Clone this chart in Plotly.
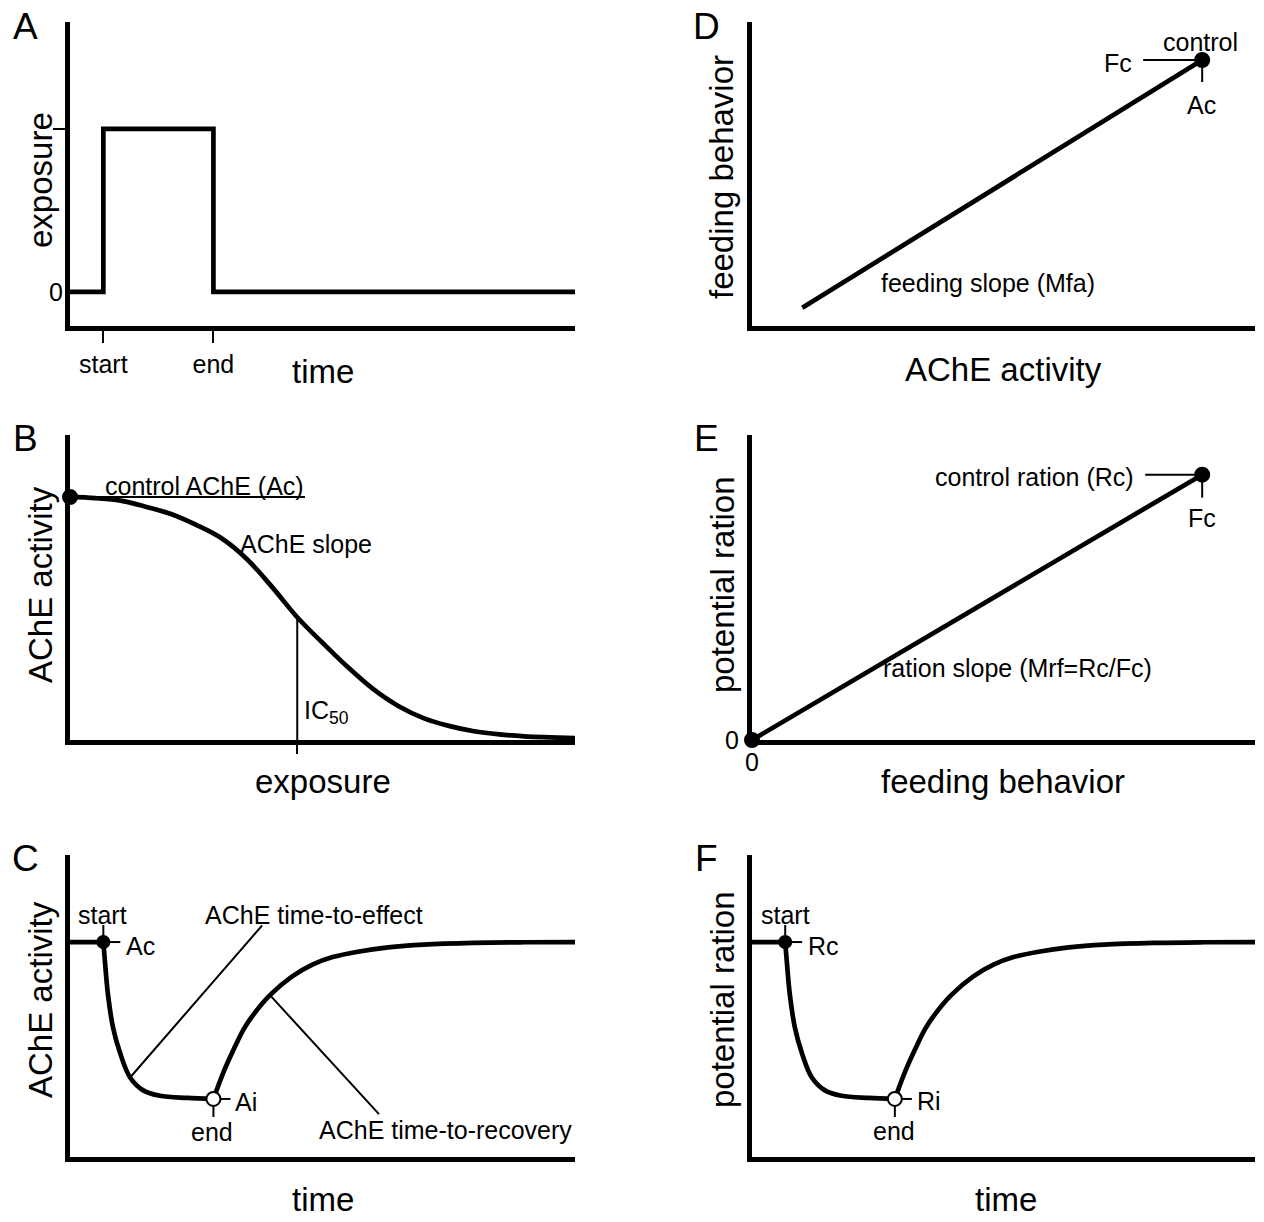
import plotly.graph_objects as go

# page body has an 8px margin; figure is sized so the page fits the window exactly
W, H = 1248, 1206
OFF = 8
FONT = "Liberation Sans, Arial, Helvetica, sans-serif"

# ---- data ----
# A: exposure pulse
start_time, end_time = 6.6, 28.4
pulse_time = [0, start_time, end_time, 100]
pulse_level = [0, 1, 0, 0]

# B: AChE vs exposure (dose-response)
dose = [0, 5, 10, 15, 20, 25, 30, 35, 40, 45, 50, 55, 60, 65, 70, 75, 80, 85, 90, 95, 100]
ache_dose = [100, 99.5, 98.5, 96, 93, 88.5, 83, 74.5, 63, 50.5, 40, 30, 21, 14, 9, 5.8,
             3.6, 2.3, 1.5, 1.1, 0.8]
ache_control = 100
ic50 = 45

# C / F: time course (AChE activity / potential ration)
base_time = [0, start_time]
base_level = [100, 100]
decay_time = [6.6, 6.9, 7.5, 8.5, 9.9, 11.9, 14.5, 17.8, 23.2, 28.4]
decay_level = [100, 91.5, 76, 60.5, 48.5, 37, 31, 28.5, 27.5, 27]
recov_time = [28.4, 30.4, 32.4, 34.4, 36.4, 39.6, 44, 48, 52, 57, 63, 70, 80, 90, 100]
recov_level = [27, 39.5, 50, 59.5, 66.5, 75.3, 84, 89.5, 93, 95.5, 97.5, 98.8, 99.6, 99.9, 100]

# D: feeding vs AChE
ache_d = [10, 89.5]
feed_d = [6, 87.5]

# E: ration vs feeding
feed_e = [0, 89.5]
ration_e = [0, 87]

# ---- panel boxes in page pixels: left, right, top, bottom ----
boxes = {
    1: (70, 575, 22, 326),
    2: (70, 575, 435, 740),
    3: (70, 575, 855, 1157),
    4: (752, 1255, 22, 326),
    5: (752, 1255, 435, 740),
    6: (752, 1255, 855, 1157),
}
yranges = {1: [-0.209, 1.656], 2: [0, 125.5], 3: [0, 140.5],
           4: [0, 100], 5: [0, 100], 6: [0, 140.5]}


def fx(px):
    return (px - OFF) / W


def fy(py):
    return 1 - (py - OFF) / H


LINE = dict(color="black", width=4.7)

fig = go.Figure()


def ax(i):
    return ("x" if i == 1 else f"x{i}"), ("y" if i == 1 else f"y{i}")


def curve(i, x, y, shape="linear"):
    xa, ya = ax(i)
    fig.add_trace(go.Scatter(x=x, y=y, mode="lines", line=dict(LINE, shape=shape),
                             xaxis=xa, yaxis=ya, hoverinfo="skip"))


def dots(i, x, y, fill="black", size=13):
    xa, ya = ax(i)
    fig.add_trace(go.Scatter(x=x, y=y, mode="markers", cliponaxis=False,
                             marker=dict(size=size, color=fill, line=dict(color="black", width=2)),
                             xaxis=xa, yaxis=ya, hoverinfo="skip"))


# A
curve(1, pulse_time, pulse_level, "hv")
# B
curve(2, dose, ache_dose, "spline")
dots(2, [0], [ache_control], size=14)
# C and F
for i in (3, 6):
    curve(i, base_time, base_level)
    curve(i, decay_time, decay_level, "spline")
    curve(i, recov_time, recov_level, "spline")
    dots(i, [start_time], [base_level[-1]], size=12)
    dots(i, [end_time], [decay_level[-1]], fill="white", size=14)
# D
curve(4, ache_d, feed_d)
dots(4, [ache_d[-1]], [feed_d[-1]], size=14)
# E
curve(5, feed_e, ration_e)
dots(5, feed_e, ration_e, size=14)


# ---- small tick/leader lines, sized in pixels from a data anchor ----
def tick(i, xa_, ya_, dx, dy, width=2):
    xr, yr = ax(i)
    return dict(type="line", xref=xr, yref=yr, xsizemode="pixel", ysizemode="pixel",
                xanchor=xa_, yanchor=ya_, x0=0, y0=0, x1=dx, y1=dy, layer="below",
                line=dict(color="black", width=width))


shapes = [
    tick(2, 0, ache_control, 235, 0),
    dict(type="line", xref="x2", yref="y2", x0=ic50, x1=ic50, y0=0, y1=ache_control / 2,
         layer="below", line=dict(color="black", width=2)),
    tick(4, ache_d[-1], feed_d[-1], -59, 0),
    tick(4, ache_d[-1], feed_d[-1], 0, -22),
    tick(5, feed_e[-1], ration_e[-1], -57, 0),
    tick(5, feed_e[-1], ration_e[-1], 0, -23),
]
for i in (3, 6):
    shapes += [
        tick(i, start_time, base_level[-1], 0, 17),
        tick(i, start_time, base_level[-1], 17, 0),
        tick(i, end_time, decay_level[-1], 0, -18),
        tick(i, end_time, decay_level[-1], 17, 0),
    ]
shapes += [
    tick(3, decay_time[5], decay_level[5], 132, 152),
    tick(3, recov_time[5], recov_level[5], 109, -119),
]


# ---- text ----
def label(text, px, py, size=25, angle=0, xanchor="center"):
    return dict(text=text, x=fx(px), y=fy(py), xref="paper", yref="paper",
                showarrow=False, textangle=angle, xanchor=xanchor, yanchor="middle",
                font=dict(size=size, family=FONT, color="black"))


annotations = [
    label("A", 25, 26, 37), label("B", 25, 438, 37), label("C", 25, 858, 37),
    label("D", 706, 26, 37), label("E", 706, 438, 37), label("F", 706, 858, 37),
    # axis titles
    label("exposure", 40, 180, 33, -90), label("time", 323, 371, 33),
    label("AChE activity", 40, 585, 33, -90), label("exposure", 323, 781, 33),
    label("AChE activity", 40, 1000, 33, -90), label("time", 323, 1199, 33),
    label("feeding behavior", 722, 177, 33, -90), label("AChE activity", 1003, 369, 33),
    label("potential ration", 722, 585, 33, -90), label("feeding behavior", 1003, 781, 33),
    label("potential ration", 722, 1000, 33, -90), label("time", 1006, 1199, 33),
    # A
    label("0", 56, 292),
    # B
    label("control AChE (Ac)", 204, 486), label("AChE slope", 306, 544),
    label("IC<sub>50</sub>", 302, 712, xanchor="left"),
    # C
    label("start", 103, 915), label("Ac", 140, 946), label("Ai", 246, 1102),
    label("end", 212, 1132), label("AChE time-to-effect", 314, 915),
    label("AChE time-to-recovery", 445, 1130),
    # D
    label("control", 1200, 42), label("Fc", 1118, 63), label("Ac", 1201, 105),
    label("feeding slope (Mfa)", 988, 283),
    # E
    label("control ration (Rc)", 1034, 477), label("Fc", 1202, 518),
    label("ration slope (Mrf=Rc/Fc)", 1017, 668),
    label("0", 732, 740), label("0", 752, 762),
    # F
    label("start", 785, 915), label("Rc", 823, 946), label("Ri", 929, 1101),
    label("end", 894, 1131),
]

layout = dict(width=W, height=H, margin=dict(l=0, r=0, t=0, b=0),
              paper_bgcolor="white", plot_bgcolor="white", showlegend=False,
              font=dict(family=FONT, color="black"),
              shapes=shapes, annotations=annotations)

base_axis = dict(showline=True, linewidth=4.5, linecolor="black", showgrid=False,
                 zeroline=False, ticks="", showticklabels=False, fixedrange=True)

for i, (l, r, t, b) in boxes.items():
    xa, ya = ax(i)
    xkey = "xaxis" if i == 1 else f"xaxis{i}"
    ykey = "yaxis" if i == 1 else f"yaxis{i}"
    layout[xkey] = dict(base_axis, domain=[fx(l), fx(r)], range=[0, 100], anchor=ya)
    layout[ykey] = dict(base_axis, domain=[fy(b), fy(t)], range=yranges[i], anchor=xa)

# A: start / end ticks on time, tick at exposure level 1
layout["xaxis"].update(tickvals=[start_time, end_time], ticktext=["start", "end"],
                       ticks="outside", ticklen=12, tickwidth=2, tickcolor="black",
                       showticklabels=True, tickfont=dict(size=25, family=FONT))
layout["yaxis"].update(tickvals=[pulse_level[1]], ticks="outside", ticklen=12,
                       tickwidth=2, tickcolor="black")
# B: IC50 tick
layout["xaxis2"].update(tickvals=[ic50], ticks="outside", ticklen=9, tickwidth=2,
                        tickcolor="black")

fig.update_layout(layout)
fig.write_html("out.html")
